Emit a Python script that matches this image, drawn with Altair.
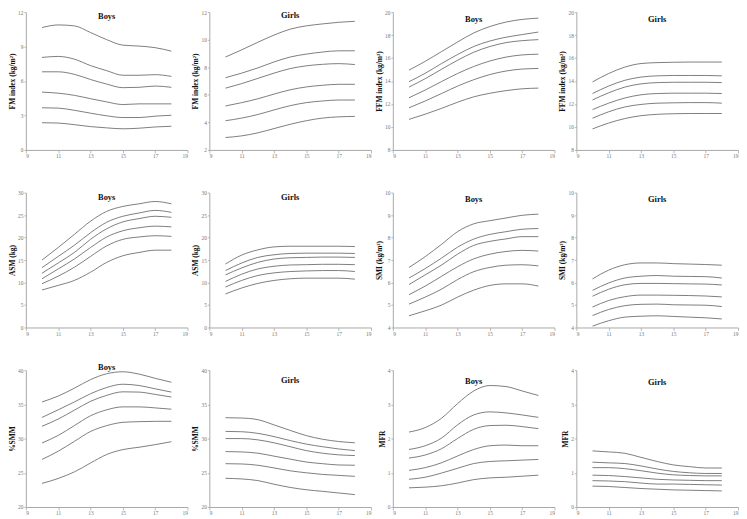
import altair as alt
import pandas as pd

AGES = [10, 11, 12, 13, 14, 15, 16, 17, 18]
X_TICKS = [9, 11, 13, 15, 17, 19]

# Each panel: six percentile curves, top to bottom, values at ages 10..18
FMI_BOYS = [
    [10.65, 10.88, 10.8, 10.22, 9.6, 9.12, 9.04, 8.9, 8.6],
    [8.05, 8.14, 7.9, 7.34, 6.9, 6.5, 6.5, 6.55, 6.4],
    [6.8, 6.8, 6.58, 6.13, 5.73, 5.42, 5.45, 5.56, 5.45],
    [5.03, 4.94, 4.75, 4.46, 4.18, 3.95, 4.01, 4.01, 4.01],
    [3.67, 3.64, 3.45, 3.2, 2.97, 2.82, 2.82, 2.94, 3.02],
    [2.37, 2.34, 2.2, 2.03, 1.92, 1.84, 1.89, 2.0, 2.06],
]
FMI_GIRLS = [
    [8.74, 9.26, 9.81, 10.33, 10.76, 11.0, 11.14, 11.26, 11.33],
    [7.24, 7.57, 7.95, 8.38, 8.74, 8.95, 9.1, 9.19, 9.19],
    [6.48, 6.81, 7.19, 7.57, 7.9, 8.1, 8.21, 8.26, 8.19],
    [5.19, 5.43, 5.71, 6.05, 6.36, 6.57, 6.69, 6.76, 6.76],
    [4.12, 4.31, 4.57, 4.9, 5.21, 5.43, 5.55, 5.62, 5.62],
    [2.9, 3.02, 3.24, 3.55, 3.86, 4.12, 4.31, 4.4, 4.43],
]
FFMI_BOYS = [
    [14.95, 15.71, 16.55, 17.39, 18.18, 18.74, 19.13, 19.36, 19.47],
    [13.94, 14.67, 15.51, 16.3, 17.0, 17.48, 17.81, 18.04, 18.26],
    [13.47, 14.2, 15.01, 15.8, 16.5, 17.0, 17.34, 17.51, 17.6],
    [12.54, 13.21, 13.94, 14.65, 15.26, 15.74, 16.08, 16.27, 16.33],
    [11.67, 12.26, 12.9, 13.55, 14.11, 14.56, 14.87, 15.04, 15.09],
    [10.66, 11.11, 11.61, 12.15, 12.62, 12.93, 13.16, 13.32, 13.38],
]
FFMI_GIRLS = [
    [13.92, 14.65, 15.21, 15.52, 15.6, 15.63, 15.65, 15.65, 15.65],
    [12.91, 13.56, 14.06, 14.34, 14.45, 14.48, 14.48, 14.48, 14.45],
    [12.35, 12.97, 13.47, 13.75, 13.86, 13.89, 13.89, 13.89, 13.86],
    [11.51, 12.07, 12.52, 12.8, 12.91, 12.94, 12.94, 12.94, 12.91],
    [10.76, 11.32, 11.74, 11.96, 12.07, 12.1, 12.12, 12.12, 12.07],
    [9.83, 10.34, 10.73, 10.98, 11.1, 11.15, 11.17, 11.17, 11.17],
]
ASM_BOYS = [
    [15.0, 17.78, 20.7, 23.63, 25.82, 26.92, 27.5, 28.02, 27.5],
    [13.31, 15.8, 18.29, 21.07, 23.41, 24.73, 25.46, 26.04, 25.6],
    [12.07, 14.34, 16.68, 19.6, 21.95, 23.48, 24.21, 24.73, 24.5],
    [10.83, 13.02, 15.22, 17.78, 20.12, 21.51, 22.17, 22.53, 22.38],
    [9.73, 11.41, 13.39, 15.8, 18.14, 19.6, 20.12, 20.41, 20.26],
    [8.34, 9.36, 10.46, 12.29, 14.48, 15.95, 16.68, 17.19, 17.19],
]
ASM_GIRLS = [
    [14.12, 16.1, 17.26, 17.92, 18.07, 18.07, 18.07, 18.07, 18.0],
    [12.66, 14.34, 15.58, 16.17, 16.46, 16.53, 16.53, 16.53, 16.46],
    [11.7, 13.24, 14.48, 15.22, 15.51, 15.58, 15.65, 15.65, 15.58],
    [10.24, 11.85, 13.02, 13.61, 13.9, 13.97, 14.05, 14.05, 13.97],
    [9.0, 10.46, 11.56, 12.14, 12.44, 12.58, 12.66, 12.66, 12.44],
    [7.46, 8.78, 9.8, 10.46, 10.83, 10.97, 10.97, 10.97, 10.75],
]
SMI_BOYS = [
    [6.67, 7.15, 7.69, 8.26, 8.61, 8.75, 8.87, 8.99, 9.04],
    [6.2, 6.62, 7.08, 7.57, 7.93, 8.14, 8.26, 8.37, 8.4],
    [5.91, 6.34, 6.77, 7.26, 7.65, 7.83, 7.94, 8.04, 8.04],
    [5.46, 5.84, 6.27, 6.7, 7.05, 7.26, 7.38, 7.43, 7.4],
    [5.04, 5.35, 5.7, 6.13, 6.48, 6.67, 6.77, 6.79, 6.74],
    [4.52, 4.74, 4.99, 5.35, 5.66, 5.87, 5.94, 5.94, 5.84],
]
SMI_GIRLS = [
    [6.16, 6.55, 6.79, 6.87, 6.87, 6.84, 6.82, 6.8, 6.77],
    [5.65, 5.98, 6.2, 6.28, 6.31, 6.28, 6.27, 6.26, 6.2],
    [5.39, 5.7, 5.9, 5.96, 5.96, 5.95, 5.94, 5.93, 5.89],
    [4.91, 5.2, 5.37, 5.44, 5.44, 5.43, 5.42, 5.4, 5.36],
    [4.53, 4.8, 4.97, 5.03, 5.04, 5.01, 5.0, 4.99, 4.93],
    [4.06, 4.3, 4.46, 4.5, 4.52, 4.49, 4.46, 4.43, 4.38],
]
SMM_BOYS = [
    [35.35, 36.21, 37.36, 38.61, 39.47, 39.76, 39.42, 38.8, 38.23],
    [33.09, 34.2, 35.35, 36.55, 37.46, 37.94, 37.75, 37.27, 36.79],
    [31.8, 32.85, 34.15, 35.44, 36.31, 36.83, 36.79, 36.45, 36.07],
    [29.35, 30.46, 31.89, 33.33, 34.2, 34.63, 34.63, 34.48, 34.29],
    [26.95, 28.15, 29.59, 31.03, 31.89, 32.37, 32.47, 32.52, 32.52],
    [23.45, 24.17, 25.13, 26.43, 27.67, 28.39, 28.73, 29.11, 29.54],
]
SMM_GIRLS = [
    [33.05, 33.0, 32.76, 32.0, 31.19, 30.43, 29.9, 29.57, 29.38],
    [31.05, 31.0, 30.76, 30.29, 29.71, 29.19, 28.81, 28.48, 28.24],
    [30.0, 30.0, 29.81, 29.38, 28.81, 28.24, 27.86, 27.62, 27.52],
    [28.1, 28.05, 27.86, 27.43, 27.0, 26.57, 26.33, 26.14, 26.1],
    [26.33, 26.29, 26.1, 25.71, 25.29, 25.0, 24.76, 24.62, 24.48],
    [24.19, 24.1, 23.86, 23.33, 22.86, 22.52, 22.29, 22.05, 21.81],
]
MFR_BOYS = [
    [2.19, 2.32, 2.59, 3.02, 3.39, 3.55, 3.52, 3.39, 3.26],
    [1.68, 1.79, 2.01, 2.4, 2.69, 2.78, 2.75, 2.69, 2.62],
    [1.43, 1.52, 1.7, 2.0, 2.27, 2.38, 2.39, 2.35, 2.29],
    [1.07, 1.15, 1.29, 1.49, 1.68, 1.79, 1.81, 1.79, 1.79],
    [0.81, 0.87, 0.99, 1.13, 1.27, 1.33, 1.35, 1.37, 1.39],
    [0.56, 0.58, 0.62, 0.7, 0.8, 0.85, 0.87, 0.9, 0.93],
]
MFR_GIRLS = [
    [1.64, 1.61, 1.57, 1.45, 1.33, 1.23, 1.18, 1.14, 1.14],
    [1.31, 1.29, 1.27, 1.2, 1.11, 1.04, 1.0, 0.98, 0.98],
    [1.15, 1.15, 1.12, 1.06, 0.99, 0.94, 0.92, 0.91, 0.91],
    [0.93, 0.92, 0.89, 0.85, 0.81, 0.79, 0.78, 0.77, 0.77],
    [0.77, 0.76, 0.74, 0.7, 0.67, 0.67, 0.66, 0.65, 0.64],
    [0.61, 0.6, 0.57, 0.54, 0.52, 0.5, 0.49, 0.48, 0.47],
]

# (curves, y title, panel label, y ticks)
PANELS = [
    (FMI_BOYS, "FM index (kg/m²)", "Boys", [0, 3, 6, 9, 12]),
    (FMI_GIRLS, "FM index (kg/m²)", "Girls", [2, 4, 6, 8, 10, 12]),
    (FFMI_BOYS, "FFM index (kg/m²)", "Boys", [8, 10, 12, 14, 16, 18, 20]),
    (FFMI_GIRLS, "FFM index (kg/m²)", "Girls", [8, 10, 12, 14, 16, 18, 20]),
    (ASM_BOYS, "ASM (kg)", "Boys", [0, 5, 10, 15, 20, 25, 30]),
    (ASM_GIRLS, "ASM (kg)", "Girls", [0, 5, 10, 15, 20, 25, 30]),
    (SMI_BOYS, "SMI (kg/m²)", "Boys", [4, 5, 6, 7, 8, 9, 10]),
    (SMI_GIRLS, "SMI (kg/m²)", "Girls", [4, 5, 6, 7, 8, 9, 10]),
    (SMM_BOYS, "%SMM", "Boys", [20, 25, 30, 35, 40]),
    (SMM_GIRLS, "%SMM", "Girls", [20, 25, 30, 35, 40]),
    (MFR_BOYS, "MFR", "Boys", [0, 1, 2, 3, 4]),
    (MFR_GIRLS, "MFR", "Girls", [0, 1, 2, 3, 4]),
]
ROW_HEIGHTS = [139, 136, 138]
LABEL_OFFSETS = [4, 3, 7, 7, 4, 4, 6, 6, -3, 10, 11, 12]

W = 163
SERIF = "Liberation Serif"
LINE_COLOR = "#666666"
AXIS_COLOR = "#a8a8a8"


def make_panel(i, curves, ytitle, label, yticks):
    h = ROW_HEIGHTS[i // 4]
    rows = []
    for ci, vals in enumerate(curves):
        for a, v in zip(AGES, vals):
            rows.append({"age": a, "value": v, "curve": ci})
    df = pd.DataFrame(rows)
    lines = alt.Chart(df).mark_line(
        color=LINE_COLOR, strokeWidth=0.85, interpolate="monotone"
    ).encode(
        x=alt.X("age:Q", scale=alt.Scale(domain=[9, 19], nice=False),
                axis=alt.Axis(values=X_TICKS, title=None, format="d")),
        y=alt.Y("value:Q", scale=alt.Scale(domain=[yticks[0], yticks[-1]], nice=False, zero=False),
                axis=alt.Axis(values=yticks, title=ytitle, format="d", tickSize=2,
                              labelPadding=1, titlePadding=1)),
        detail="curve:N",
    )
    txt = alt.Chart(pd.DataFrame({"t": [label]})).mark_text(
        font=SERIF, fontWeight="bold", fontSize=8.5, baseline="middle", align="center", color="#111111"
    ).encode(text="t:N", x=alt.value(W / 2), y=alt.value(LABEL_OFFSETS[i]))
    return alt.layer(lines, txt).properties(width=W, height=h)


panels = [make_panel(i, *p) for i, p in enumerate(PANELS)]

chart = alt.concat(
    *panels, columns=4, spacing={"row": 43, "column": 22}, bounds="flush"
).properties(
    padding={"left": 0, "top": 0, "right": 0, "bottom": 0},
    background="white",
).configure_view(
    stroke=None
).configure_axis(
    grid=False,
    domainColor=AXIS_COLOR,
    tickColor=AXIS_COLOR,
    domainWidth=1,
    tickWidth=0.8,
    tickSize=3,
    labelColor="#777777",
    labelFont=SERIF,
    labelFontSize=5.5,
    labelPadding=1,
    titleFont=SERIF,
    titleFontSize=7.5,
    titleFontWeight="bold",
    titleColor="#111111",
    titlePadding=2,
)

chart.save("out.html", embed_options={"renderer": "svg", "actions": False})
